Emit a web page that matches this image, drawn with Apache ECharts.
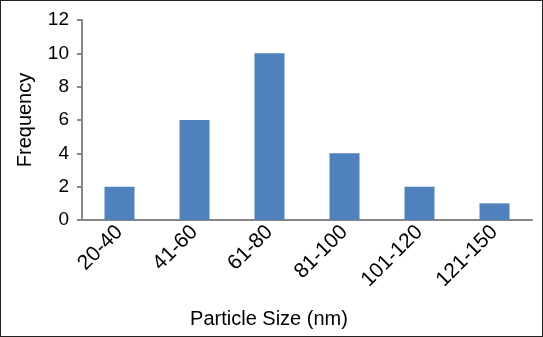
<!DOCTYPE html>
<html>
<head>
<meta charset="utf-8">
<script src="https://cdn.jsdelivr.net/npm/echarts@6/dist/echarts.min.js"></script>
<style>
html, body { margin: 0; padding: 0; background: #fff; }
#chart { width: 541px; height: 335px; border: 1px solid #222; }
</style>
</head>
<body>
<div id="chart"></div>
<script>
// 数据
var categories = ['20-40', '41-60', '61-80', '81-100', '101-120', '121-150'];
var frequency = [2, 6, 10, 4, 2, 1];
var yTicks = [0, 2, 4, 6, 8, 10, 12];

var chart = echarts.init(document.getElementById('chart'));
var axisColor = '#868686';
var option = {
    animation: false,
    textStyle: { fontFamily: 'Liberation Sans, Arial, sans-serif' },
    grid: { left: 81, right: 10, top: 19, bottom: 116 },
    xAxis: {
        type: 'category',
        data: categories,
        name: 'Particle Size (nm)',
        nameLocation: 'middle',
        nameGap: 89,
        nameTextStyle: { fontSize: 20, color: '#000', padding: [0, 76, 0, 0] },
        axisLine: { lineStyle: { color: axisColor, width: 2 } },
        axisTick: { show: false },
        axisLabel: { rotate: 45, fontSize: 21, color: '#000', margin: 9, interval: 0 }
    },
    yAxis: {
        type: 'value',
        min: yTicks[0],
        max: yTicks[yTicks.length - 1],
        interval: 2,
        name: 'Frequency',
        nameLocation: 'middle',
        nameGap: 47,
        nameTextStyle: { fontSize: 20, color: '#000' },
        axisLine: { show: true, lineStyle: { color: axisColor, width: 2 } },
        axisTick: { show: true, length: 5, lineStyle: { color: axisColor, width: 2 } },
        axisLabel: { fontSize: 19, color: '#000', margin: 13 },
        splitLine: { show: false }
    },
    series: [{
        type: 'bar',
        data: frequency,
        barWidth: '40%',
        itemStyle: { color: '#4f81bd' }
    }]
};
chart.setOption(option);
</script>
</body>
</html>
